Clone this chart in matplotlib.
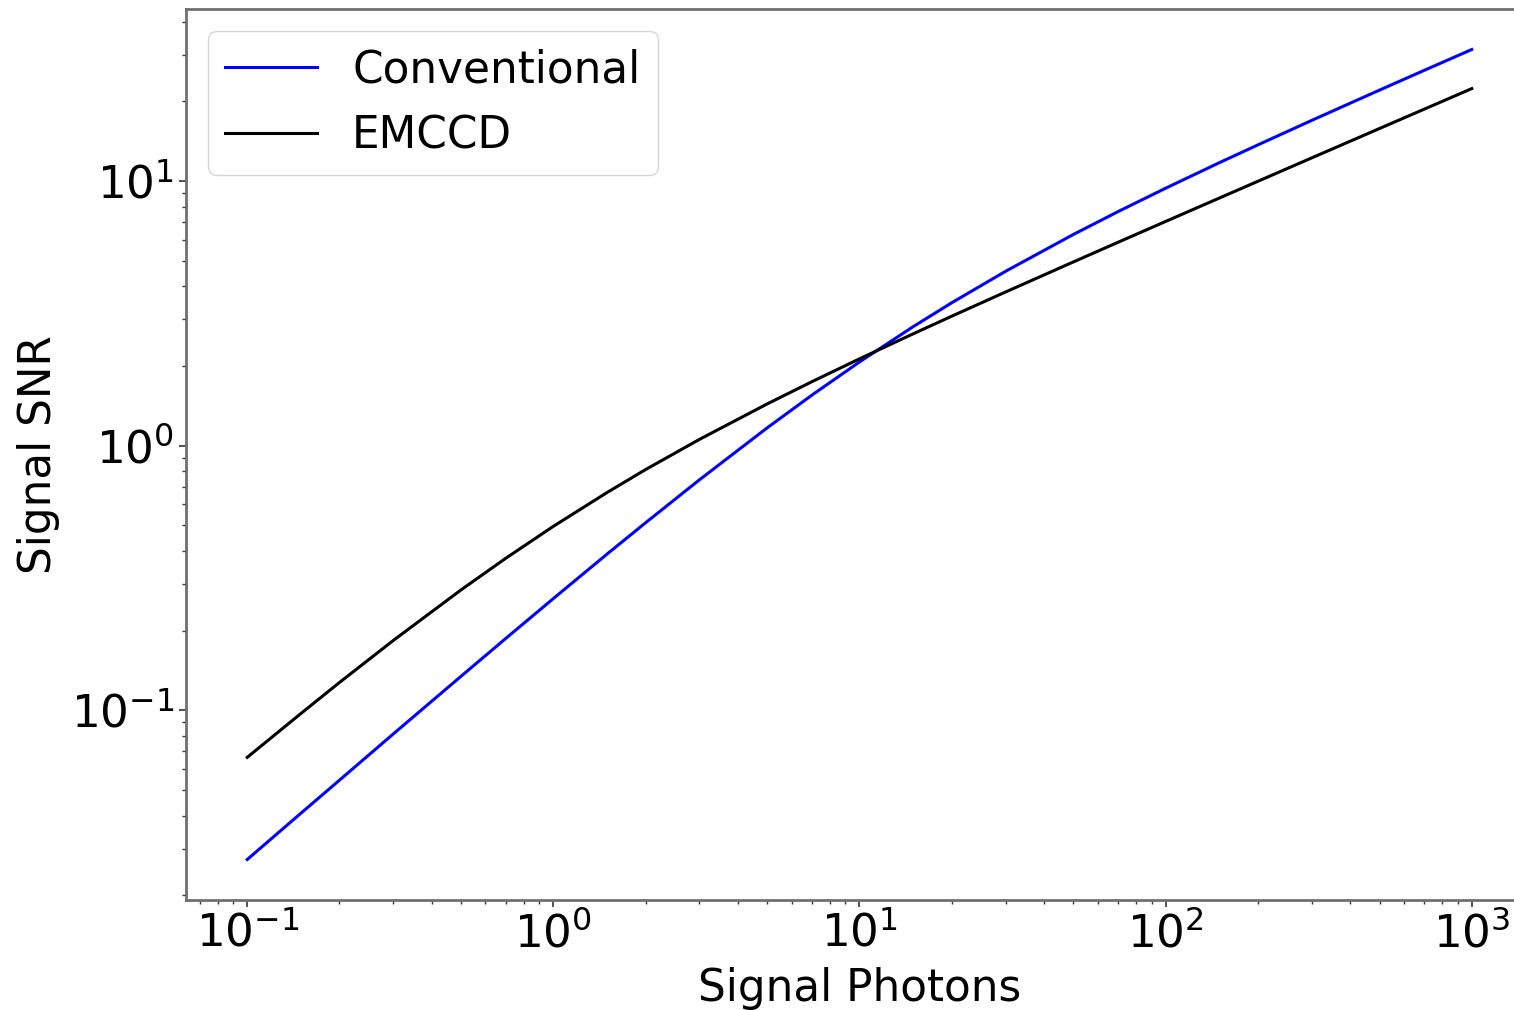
import matplotlib
matplotlib.use('Agg')
from matplotlib import pyplot as plt

# signal photons (x) and SNR
photons = [0.1, 0.15, 0.2, 0.3, 0.5, 0.7, 1, 1.5, 2, 3, 5, 7, 10,
           15, 20, 30, 50, 70, 100, 150, 200, 300, 500, 700, 1000]
snr_conventional = [0.0273, 0.0409, 0.0544, 0.0814, 0.1346, 0.1871, 0.2644,
                    0.390, 0.511, 0.743, 1.169, 1.554, 2.072, 2.820, 3.466,
                    4.559, 6.285, 7.670, 9.395, 11.74, 13.69, 16.95, 22.07,
                    26.21, 31.41]
snr_emccd = [0.0664, 0.0974, 0.1273, 0.1836, 0.2854, 0.3758, 0.4957,
             0.666, 0.812, 1.056, 1.439, 1.746, 2.129, 2.649, 3.084,
             3.808, 4.949, 5.873, 7.035, 8.631, 9.974, 12.23, 15.80,
             18.70, 22.35]

fs = 31.5

fig = plt.figure(figsize=[15.14, 10.10], dpi=100)
# axes run past the right edge, like the cropped original
ax = fig.add_axes([186 / 1514, 1 - 900 / 1010, 1347 / 1514, 891 / 1010])

ax.plot(photons, snr_conventional, color='b', lw=2.2, label='Conventional')
ax.plot(photons, snr_emccd, color='k', lw=2.2, label='EMCCD')
ax.set_xscale('log')
ax.set_yscale('log')

ax.set_xlabel('Signal Photons', fontsize=fs, labelpad=7.5)
ax.set_ylabel('Signal SNR', fontsize=fs, labelpad=8)
ax.tick_params(which='major', labelsize=32.5, length=5, width=1.2, color='#333333')
ax.tick_params(which='minor', length=3, width=1.0, color='#333333')
for s in ax.spines.values():
    s.set_color('#707070')
    s.set_linewidth(2)
ax.spines['right'].set_visible(False)

ax.legend(loc='upper left', fontsize=fs, borderaxespad=0.5, handlelength=2.1,
          handletextpad=0.8, labelspacing=0.52, fancybox=True)

fig.savefig('out.png', dpi=100)
